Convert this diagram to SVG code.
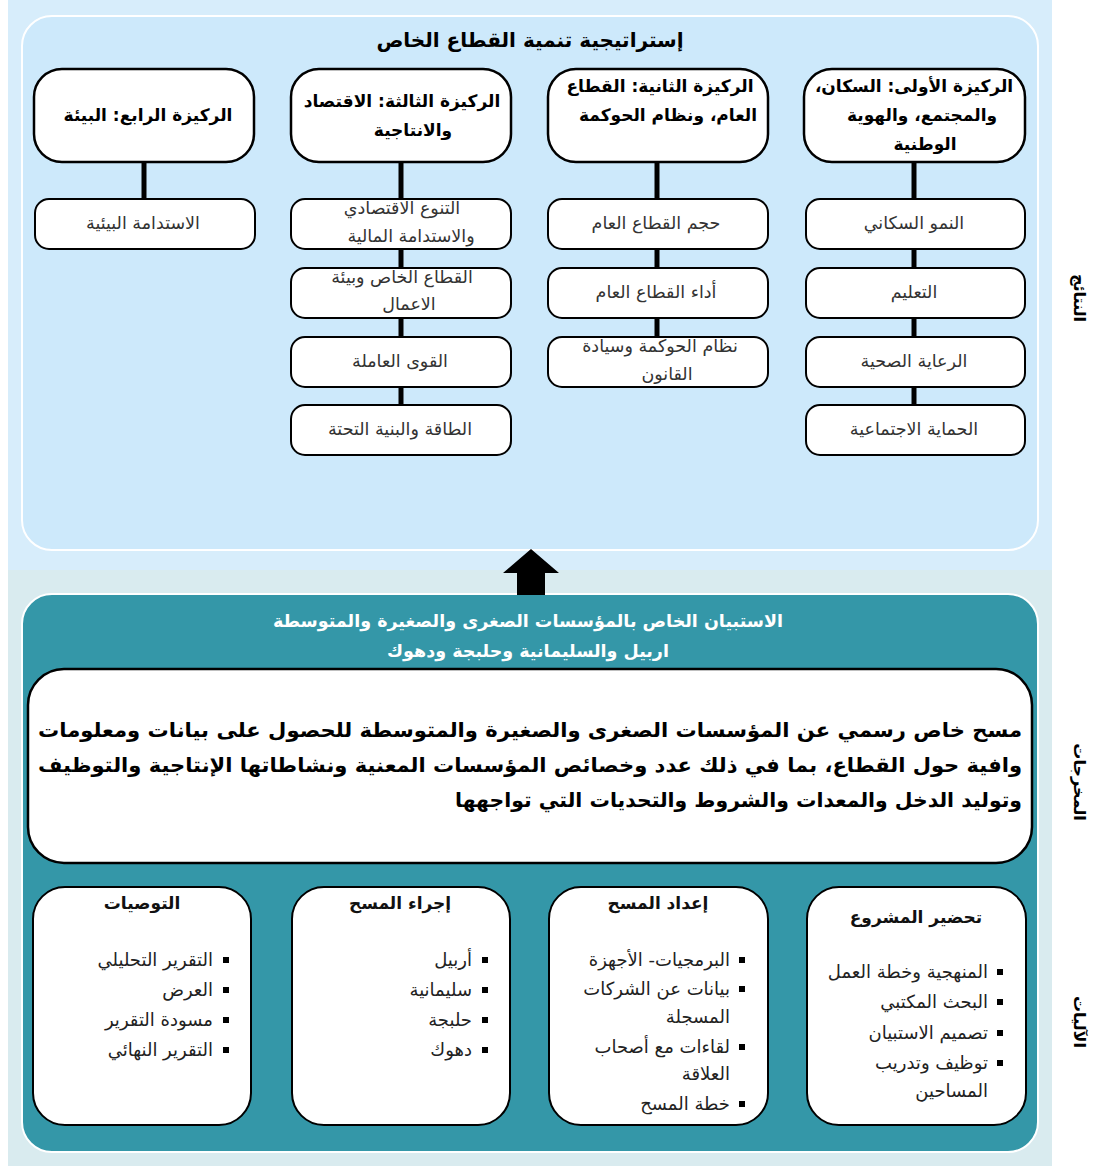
<svg xmlns="http://www.w3.org/2000/svg" width="1094" height="1166" viewBox="0 0 1094 1166">
<style>
text{font-family:"DejaVu Sans","Noto Sans",sans-serif;}
.hdr{fill:#fff;stroke:#000;stroke-width:2.5;}
.sub{fill:#fff;stroke:#000;stroke-width:2;}
.ht{font-size:17px;font-weight:bold;fill:#000;text-anchor:middle;}
.st{font-size:17.5px;fill:#333;text-anchor:middle;}
.bt{font-size:18px;fill:#222;text-anchor:end;}
.bh{font-size:17px;font-weight:bold;fill:#111;text-anchor:middle;}
.side{font-size:16px;font-weight:bold;fill:#000;text-anchor:middle;}
.conn{stroke:#000;stroke-width:5;}
.wt{font-size:17.5px;font-weight:bold;fill:#fff;text-anchor:middle;}
.big{font-size:20px;font-weight:bold;fill:#000;text-anchor:end;}
</style>
<defs>
<rect id="bul" width="6" height="6" fill="#000"/>
</defs>
<g id="background">
<rect x="8" y="0" width="1044" height="570" fill="#d7edfb"/>
<rect x="8" y="570" width="1044" height="596" fill="#d9ebef"/>
<rect x="22" y="16" width="1016" height="534" rx="30" fill="#cde9fb" stroke="#fff" stroke-width="2"/>
<rect x="22" y="594" width="1016" height="558" rx="30" fill="#3497a8" stroke="#fff" stroke-width="2"/>
<polygon points="531,549 559,573 545,573 545,595 517,595 517,573 503,573" fill="#000"/>
</g>
<g id="side-labels">
<text class="side" transform="translate(1074,298) rotate(90)">النتائج</text>
<text class="side" transform="translate(1074,782) rotate(90)">المخرجات</text>
<text class="side" transform="translate(1074,1022) rotate(90)">الآليات</text>
</g>
<g id="title">
<text x="530" y="47" font-size="20" font-weight="bold" text-anchor="middle">إستراتيجية تنمية القطاع الخاص</text>
</g>
<g id="connectors">
<line class="conn" x1="914" y1="162" x2="914" y2="200"/>
<line class="conn" x1="914" y1="249" x2="914" y2="268"/>
<line class="conn" x1="914" y1="318" x2="914" y2="337"/>
<line class="conn" x1="914" y1="387" x2="914" y2="405"/>
<line class="conn" x1="657" y1="162" x2="657" y2="200"/>
<line class="conn" x1="657" y1="249" x2="657" y2="268"/>
<line class="conn" x1="657" y1="318" x2="657" y2="337"/>
<line class="conn" x1="401" y1="162" x2="401" y2="200"/>
<line class="conn" x1="401" y1="249" x2="401" y2="268"/>
<line class="conn" x1="401" y1="318" x2="401" y2="337"/>
<line class="conn" x1="401" y1="387" x2="401" y2="405"/>
<line class="conn" x1="144" y1="162" x2="144" y2="200"/>
</g>
<g id="pillar1">
<rect class="hdr" x="804" y="69" width="221" height="93" rx="28"/>
<text class="ht" x="914" y="92" direction="rtl">الركيزة الأولى: السكان،</text>
<text class="ht" x="922" y="121">والمجتمع، والهوية</text>
<text class="ht" x="925" y="150">الوطنية</text>
</g>
<g id="pillar2">
<rect class="hdr" x="548" y="69" width="220" height="93" rx="28"/>
<text class="ht" x="660" y="92">الركيزة الثانية: القطاع</text>
<text class="ht" x="668" y="121">العام، ونظام الحوكمة</text>
</g>
<g id="pillar3">
<rect class="hdr" x="291" y="69" width="220" height="93" rx="28"/>
<text class="ht" x="402" y="107">الركيزة الثالثة: الاقتصاد</text>
<text class="ht" x="413" y="136">والانتاجية</text>
</g>
<g id="pillar4">
<rect class="hdr" x="34" y="69" width="220" height="93" rx="28"/>
<text class="ht" x="148" y="121">الركيزة الرابع: البيئة</text>
</g>
<g id="p1-items">
<g id="n-pop"><rect class="sub" x="806" y="199" width="219" height="50" rx="14"/><text class="st" x="914" y="229">النمو السكاني</text></g>
<g id="n-edu"><rect class="sub" x="806" y="268" width="219" height="50" rx="14"/><text class="st" x="914" y="298">التعليم</text></g>
<g id="n-health"><rect class="sub" x="806" y="337" width="219" height="50" rx="14"/><text class="st" x="914" y="367">الرعاية الصحية</text></g>
<g id="n-social"><rect class="sub" x="806" y="405" width="219" height="50" rx="14"/><text class="st" x="914" y="435">الحماية الاجتماعية</text></g>
</g>
<g id="p2-items">
<g id="n-size"><rect class="sub" x="548" y="199" width="220" height="50" rx="14"/><text class="st" x="656" y="229">حجم القطاع العام</text></g>
<g id="n-perf"><rect class="sub" x="548" y="268" width="220" height="50" rx="14"/><text class="st" x="656" y="298">أداء القطاع العام</text></g>
<g id="n-gov"><rect class="sub" x="548" y="337" width="220" height="50" rx="14"/><text class="st" x="660" y="352">نظام الحوكمة وسيادة</text><text class="st" x="667" y="380">القانون</text></g>
</g>
<g id="p3-items">
<g id="n-div"><rect class="sub" x="291" y="199" width="220" height="50" rx="14"/><text class="st" x="402" y="214">التنوع الاقتصادي</text><text class="st" x="411" y="242">والاستدامة المالية</text></g>
<g id="n-priv"><rect class="sub" x="291" y="268" width="220" height="50" rx="14"/><text class="st" x="402" y="283">القطاع الخاص وبيئة</text><text class="st" x="409" y="310">الاعمال</text></g>
<g id="n-labor"><rect class="sub" x="291" y="337" width="220" height="50" rx="14"/><text class="st" x="400" y="367">القوى العاملة</text></g>
<g id="n-energy"><rect class="sub" x="291" y="405" width="220" height="50" rx="14"/><text class="st" x="400" y="435">الطاقة والبنية التحتة</text></g>
</g>
<g id="p4-items">
<g id="n-env"><rect class="sub" x="35" y="199" width="220" height="50" rx="14"/><text class="st" x="143" y="229">الاستدامة البيئية</text></g>
</g>
<g id="survey-header">
<text class="wt" x="528" y="627">الاستبيان الخاص بالمؤسسات الصغرى والصغيرة والمتوسطة</text>
<text class="wt" x="528" y="657">اربيل والسليمانية وحلبجة ودهوك</text>
</g>
<g id="outputs">
<rect x="28" y="669" width="1004" height="194" rx="36" fill="#fff" stroke="#000" stroke-width="2.5"/>
<text class="big" x="1022" y="737" textLength="984" lengthAdjust="spacingAndGlyphs">مسح خاص رسمي عن المؤسسات الصغرى والصغيرة والمتوسطة للحصول على بيانات ومعلومات</text>
<text class="big" x="1022" y="772" textLength="984" lengthAdjust="spacingAndGlyphs">وافية حول القطاع، بما في ذلك عدد وخصائص المؤسسات المعنية ونشاطاتها الإنتاجية والتوظيف</text>
<text class="big" x="1022" y="807" textLength="567" lengthAdjust="spacingAndGlyphs">وتوليد الدخل والمعدات والشروط والتحديات التي تواجهها</text>
</g>
<g id="mech-prep">
<rect class="sub" x="807" y="887" width="219" height="238" rx="32"/>
<text class="bh" x="916" y="923">تحضير المشروع</text>
<use href="#bul" x="997" y="969"/><text class="bt" x="988" y="978">المنهجية وخطة العمل</text>
<use href="#bul" x="997" y="999"/><text class="bt" x="988" y="1008">البحث المكتبي</text>
<use href="#bul" x="997" y="1030"/><text class="bt" x="988" y="1039">تصميم الاستبيان</text>
<use href="#bul" x="997" y="1060"/><text class="bt" x="988" y="1069">توظيف وتدريب</text>
<text class="bt" x="988" y="1097">المساحين</text>
</g>
<g id="mech-setup">
<rect class="sub" x="549" y="887" width="219" height="238" rx="32"/>
<text class="bh" x="658" y="909">إعداد المسح</text>
<use href="#bul" x="739" y="957"/><text class="bt" x="730" y="966">البرمجيات- الأجهزة</text>
<use href="#bul" x="739" y="986"/><text class="bt" x="730" y="995">بيانات عن الشركات</text>
<text class="bt" x="730" y="1023">المسجلة</text>
<use href="#bul" x="739" y="1044"/><text class="bt" x="730" y="1053">لقاءات مع أصحاب</text>
<text class="bt" x="730" y="1080">العلاقة</text>
<use href="#bul" x="739" y="1101"/><text class="bt" x="730" y="1110">خطة المسح</text>
</g>
<g id="mech-conduct">
<rect class="sub" x="292" y="887" width="218" height="238" rx="32"/>
<text class="bh" x="400" y="909">إجراء المسح</text>
<use href="#bul" x="482" y="957"/><text class="bt" x="472" y="966">أربيل</text>
<use href="#bul" x="482" y="987"/><text class="bt" x="472" y="996">سليمانية</text>
<use href="#bul" x="482" y="1017"/><text class="bt" x="472" y="1026">حلبجة</text>
<use href="#bul" x="482" y="1047"/><text class="bt" x="472" y="1056">دهوك</text>
</g>
<g id="mech-recs">
<rect class="sub" x="33" y="887" width="218" height="238" rx="32"/>
<text class="bh" x="142" y="909">التوصيات</text>
<use href="#bul" x="223" y="957"/><text class="bt" x="213" y="966">التقرير التحليلي</text>
<use href="#bul" x="223" y="987"/><text class="bt" x="213" y="996">العرض</text>
<use href="#bul" x="223" y="1017"/><text class="bt" x="213" y="1026">مسودة التقرير</text>
<use href="#bul" x="223" y="1047"/><text class="bt" x="213" y="1056">التقرير النهائي</text>
</g>
</svg>
